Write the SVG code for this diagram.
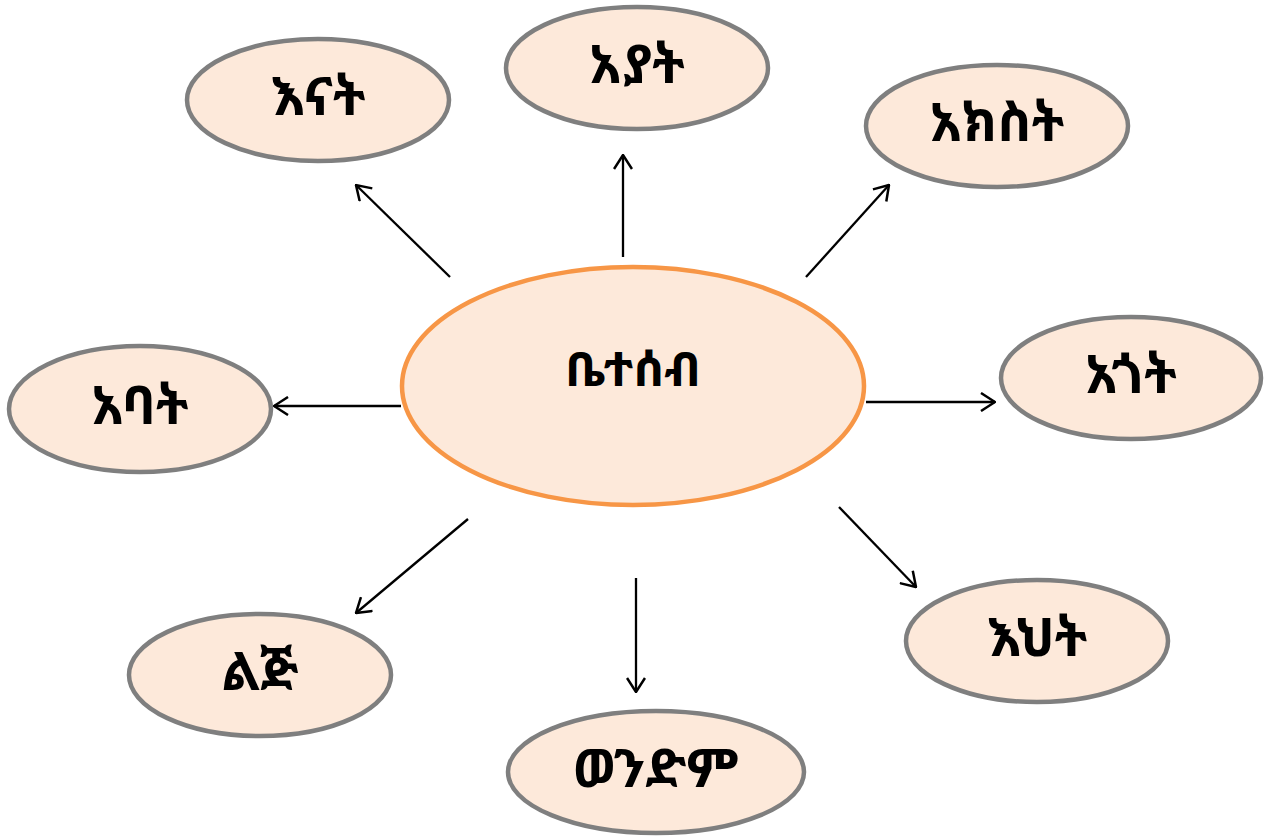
<svg xmlns="http://www.w3.org/2000/svg" width="1264" height="836" viewBox="0 0 1264 836">
<style>
.n{fill:#FDE9DA;stroke:#7F7F7F;stroke-width:4.5}
.c{fill:#FDE9DA;stroke:#F79646;stroke-width:4.5}
.t{font-family:"Noto Sans Ethiopic","Abyssinica SIL","Noto Serif Ethiopic","Noto Sans","DejaVu Sans",sans-serif;font-size:53px;font-weight:bold;fill:#000;text-anchor:middle;dominant-baseline:central}
.tc{font-size:48px}
.a{stroke:#000;stroke-width:2.3;fill:none;marker-end:url(#ah)}
</style>
<defs>
<marker id="ah" viewBox="0 0 16 20" refX="15" refY="10" markerWidth="16" markerHeight="20" markerUnits="userSpaceOnUse" orient="auto">
<path d="M1,1 L15,10 L1,19" fill="none" stroke="#000" stroke-width="2.5"/>
</marker>
</defs>
<rect width="1264" height="836" fill="#fff"/>
<g id="connectors">
<line class="a" x1="450" y1="277" x2="356" y2="185"/>
<line class="a" x1="623" y1="257" x2="623" y2="155"/>
<line class="a" x1="806" y1="277" x2="889" y2="185"/>
<line class="a" x1="866" y1="402" x2="995" y2="402"/>
<line class="a" x1="839" y1="507" x2="916" y2="587"/>
<line class="a" x1="636" y1="578" x2="636" y2="692"/>
<line class="a" x1="468" y1="519" x2="356" y2="613"/>
<line class="a" x1="401" y1="406" x2="274" y2="406"/>
</g>
<g id="center"><ellipse class="c" cx="633" cy="386" rx="231" ry="119"/><text class="t tc" x="633" y="367">ቤተሰብ</text></g>
<g id="enat"><ellipse class="n" cx="318" cy="100" rx="131" ry="61"/><text class="t" x="318" y="94">እናት</text></g>
<g id="ayat"><ellipse class="n" cx="637" cy="68" rx="131" ry="61"/><text class="t" x="637" y="62">አያት</text></g>
<g id="akest"><ellipse class="n" cx="997" cy="126" rx="131" ry="61"/><text class="t" x="997" y="120">አክስት</text></g>
<g id="agot"><ellipse class="n" cx="1131" cy="378" rx="130" ry="61"/><text class="t" x="1131" y="372">አጎት</text></g>
<g id="ehet"><ellipse class="n" cx="1037" cy="641" rx="131" ry="61"/><text class="t" x="1037" y="635">እህት</text></g>
<g id="wendem"><ellipse class="n" cx="656" cy="772" rx="148" ry="61"/><text class="t" x="656" y="766">ወንድም</text></g>
<g id="lej"><ellipse class="n" cx="260" cy="675" rx="131" ry="61"/><text class="t" x="260" y="669">ልጅ</text></g>
<g id="abat"><ellipse class="n" cx="140" cy="409" rx="131" ry="63"/><text class="t" x="140" y="403">አባት</text></g>
</svg>
